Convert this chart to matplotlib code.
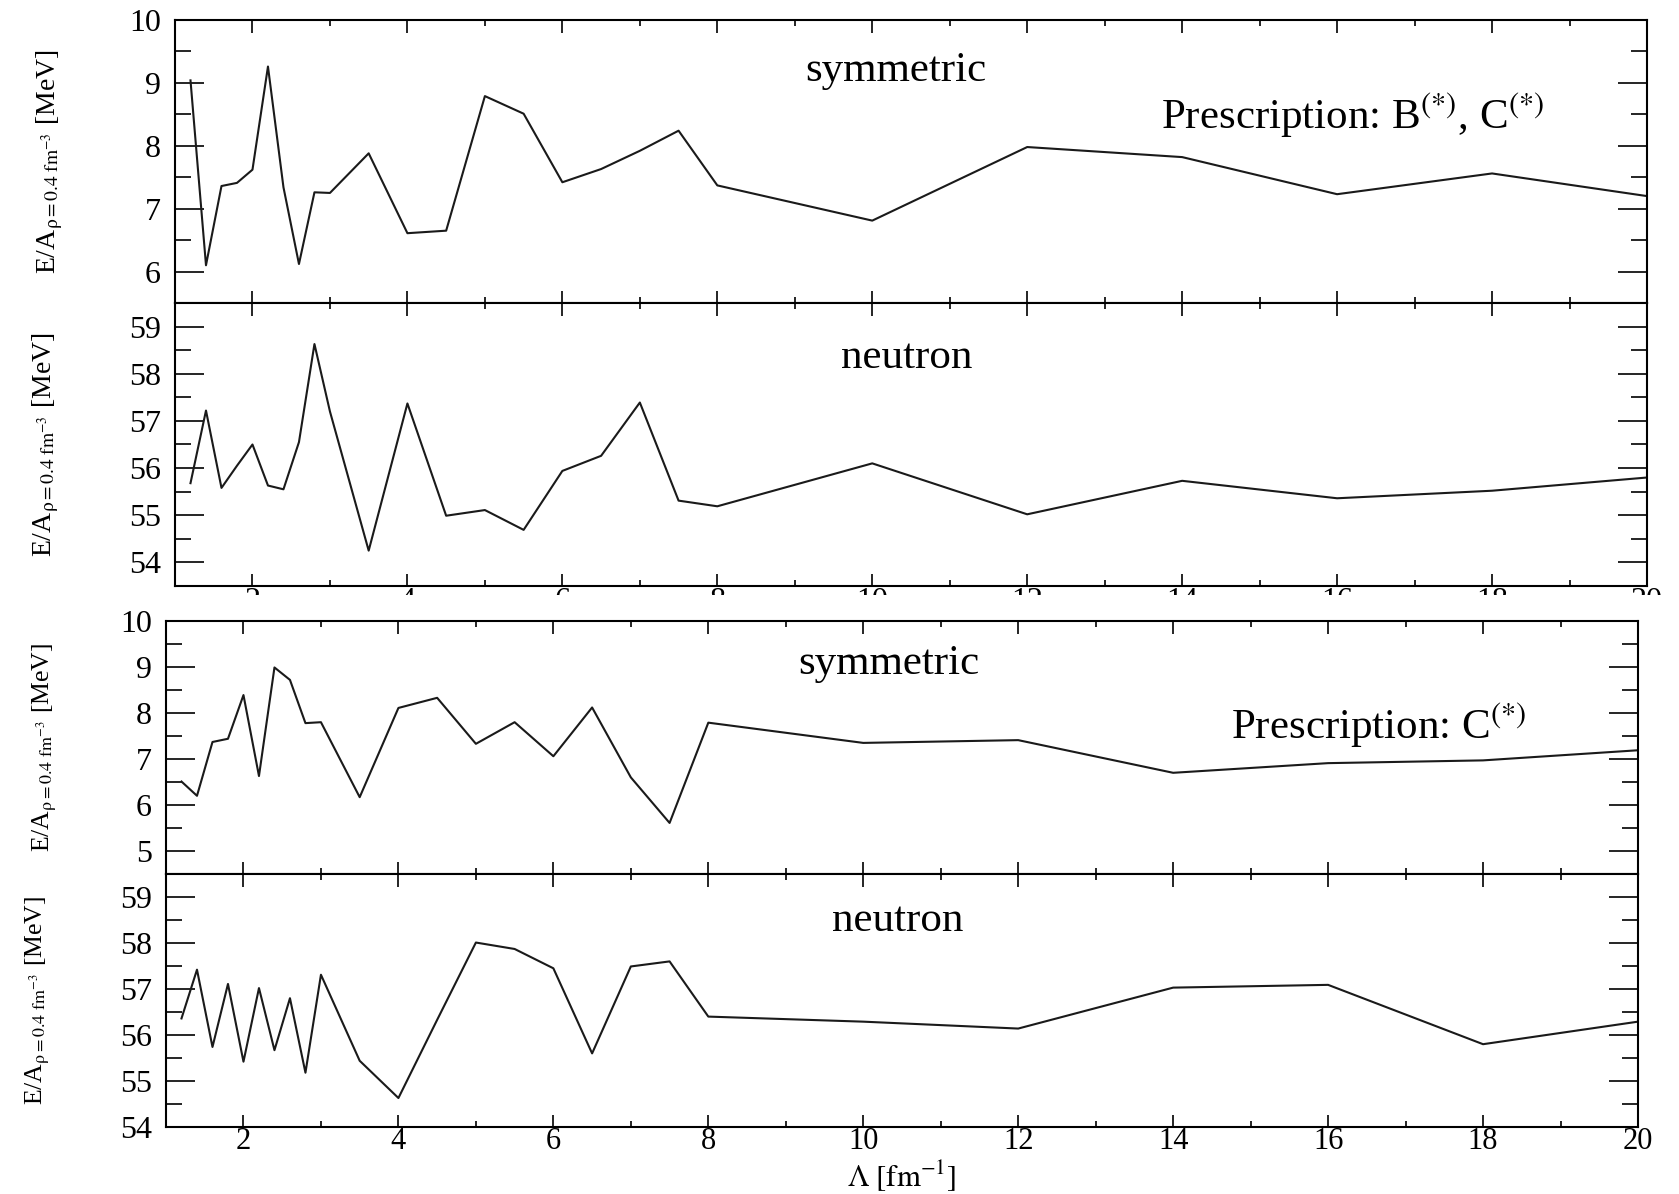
"""E/A at rho = 0.4 fm^-3 versus cutoff Lambda, two prescriptions."""

import numpy as np
import matplotlib
import matplotlib.pyplot as plt
from matplotlib.patches import Rectangle
from matplotlib.ticker import MultipleLocator

matplotlib.use("Agg")

plt.rcParams["font.family"] = ["Liberation Serif", "DejaVu Serif"]
plt.rcParams["mathtext.fontset"] = "stix"

# Cutoff values Lambda [fm^-1]
lam = [1.2, 1.4, 1.6, 1.8, 2.0, 2.2, 2.4, 2.6, 2.8, 3.0, 3.5, 4.0, 4.5,
       5.0, 5.5, 6.0, 6.5, 7.0, 7.5, 8.0, 10, 12, 14, 16, 18, 20]

# Prescription B(*), C(*)
sym_bc = [9.04, 6.10, 7.36, 7.41, 7.62, 9.26, 7.34, 6.12, 7.26, 7.25, 7.88, 6.61, 6.65,
          8.79, 8.51, 7.42, 7.63, 7.92, 8.24, 7.37, 6.81, 7.98, 7.82, 7.23, 7.56, 7.20]
neu_bc = [55.68, 57.22, 55.58, 56.05, 56.50, 55.63, 55.55, 56.55, 58.63, 57.20, 54.25, 57.37, 54.99,
          55.11, 54.69, 55.94, 56.26, 57.39, 55.31, 55.19, 56.10, 55.02, 55.73, 55.36, 55.52, 55.80]

# Prescription C(*)
sym_c = [6.51, 6.20, 7.37, 7.44, 8.39, 6.63, 8.99, 8.72, 7.78, 7.80, 6.17, 8.11, 8.33,
         7.33, 7.80, 7.06, 8.12, 6.60, 5.61, 7.79, 7.35, 7.41, 6.70, 6.91, 6.97, 7.19]
neu_c = [56.36, 57.42, 55.74, 57.11, 55.42, 57.02, 55.67, 56.80, 55.18, 57.31, 55.44, 54.63, 56.33,
         58.01, 57.87, 57.45, 55.60, 57.49, 57.60, 56.40, 56.29, 56.14, 57.03, 57.09, 55.80, 56.29]

YLABEL = r"E/A$_{\mathrm{\rho=0.4\ fm}^{-3}}$ [MeV]"
W, H = 1679, 1194


def box(left, top, right, bottom):
    return [left / W, 1 - bottom / H, (right - left) / W, (bottom - top) / H]


def style(ax, ylim, ylab_size):
    ax.set_xlim(1, 20)
    ax.set_ylim(*ylim)
    ax.xaxis.set_major_locator(MultipleLocator(2))
    ax.xaxis.set_minor_locator(MultipleLocator(1))
    ax.yaxis.set_major_locator(MultipleLocator(1))
    ax.yaxis.set_minor_locator(MultipleLocator(0.5))
    ax.tick_params(which="both", direction="in", top=True, right=True,
                   width=1.2, labelsize=23)
    ax.tick_params(axis="x", which="major", length=9)
    ax.tick_params(axis="x", which="minor", length=4.5)
    ax.tick_params(axis="y", which="major", length=21, pad=10)
    ax.tick_params(axis="y", which="minor", length=11.5)
    for sp in ax.spines.values():
        sp.set_linewidth(1.5)
    ax.set_ylabel(YLABEL, fontsize=ylab_size)
    ax.yaxis.label.set_va("center")


fig = plt.figure(figsize=(W / 100, H / 100), dpi=100)

ax1 = fig.add_axes(box(175, 20, 1647, 303), zorder=0)
ax2 = fig.add_axes(box(175, 303, 1647, 586), zorder=0)
ax3 = fig.add_axes(box(166, 621, 1638, 874), zorder=2)
ax4 = fig.add_axes(box(166, 874, 1638, 1127), zorder=2)

for ax, y, lim, ls in [(ax1, sym_bc, (5.5, 10), 20), (ax2, neu_bc, (53.5, 59.5), 20),
                       (ax3, sym_c, (4.5, 10), 18.5), (ax4, neu_c, (54, 59.5), 18.5)]:
    ax.plot(lam, y, color="#1a1a1a", lw=1.5)
    style(ax, lim, ls)

ax1.tick_params(axis="x", labelbottom=False)
ax3.tick_params(axis="x", labelbottom=False)
ax2.tick_params(axis="x", pad=1)
ax4.tick_params(axis="x", pad=0, labelsize=22)

ax1.yaxis.set_label_coords(-0.085, 0.5)
ax2.yaxis.set_label_coords(-0.088, 0.5)
ax3.yaxis.set_label_coords(-0.082, 0.5)
ax4.yaxis.set_label_coords(-0.087, 0.5)

ax4.set_xlabel(r"$\Lambda\ [\mathrm{fm}^{-1}]$", fontsize=22)
ax4.xaxis.set_label_coords(0.5, -(1193 - 1127) / 253)
ax4.xaxis.label.set_va("bottom")

# text annotations
ax1.text(0.49, 0.82, "symmetric", transform=ax1.transAxes, fontsize=31,
         ha="center", va="center")
ax1.text(0.80, 0.664, r"Prescription: B$^{(*)}$, C$^{(*)}$", transform=ax1.transAxes,
         fontsize=31, ha="center", va="center")
ax2.text(0.497, 0.806, "neutron", transform=ax2.transAxes, fontsize=31,
         ha="center", va="center")
ax3.text(0.491, 0.83, "symmetric", transform=ax3.transAxes, fontsize=31,
         ha="center", va="center")
ax3.text(0.824, 0.589, r"Prescription: C$^{(*)}$", transform=ax3.transAxes,
         fontsize=31, ha="center", va="center")
ax4.text(0.497, 0.814, "neutron", transform=ax4.transAxes, fontsize=31,
         ha="center", va="center")

# the lower figure is pasted over the tick labels of the upper one
fig.add_artist(Rectangle((0, 1 - 640 / H), 1, 45 / H, transform=fig.transFigure,
                         facecolor="white", edgecolor="none", zorder=1))

fig.savefig("out.png", dpi=100)
plt.close(fig)
